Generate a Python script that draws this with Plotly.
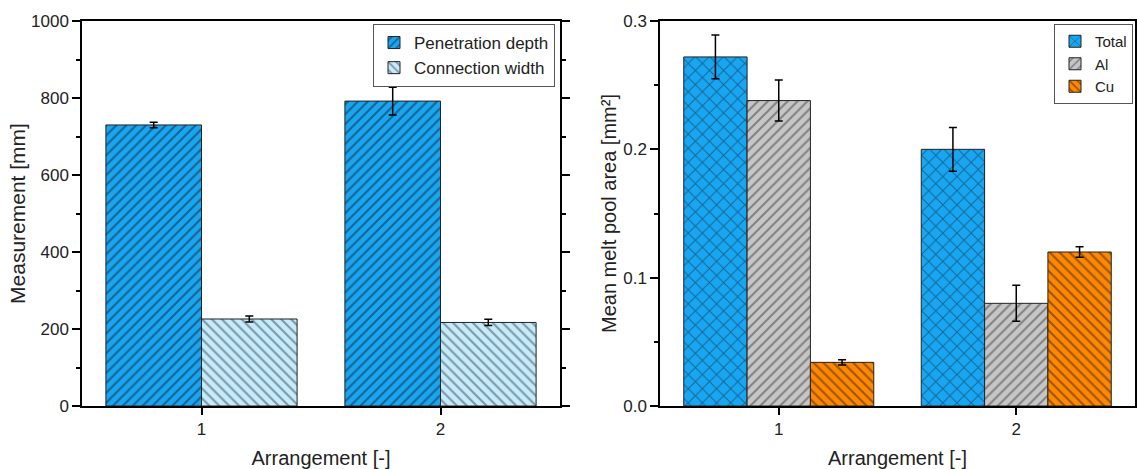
import plotly.graph_objects as go

# ---- data ----
arrangement = [1, 2]
pen_depth = [730, 792]
pen_depth_err = [7, 36]
conn_width = [226, 217]
conn_width_err = [8, 8]

area_total = [0.272, 0.200]
area_total_err = [0.017, 0.017]
area_al = [0.238, 0.080]
area_al_err = [0.016, 0.014]
area_cu = [0.034, 0.120]
area_cu_err = [0.002, 0.004]

left_ticks = [0, 200, 400, 600, 800, 1000]
right_ticks = [0.0, 0.1, 0.2, 0.3]

FONT = "Liberation Sans, Arial, sans-serif"
BLUE = "#18a6f2"
LIGHT_BLUE = "#c6ebfa"
GRAY = "#c6c6c6"
ORANGE = "#ff8800"
LINE = "#222222"

W, H = 1137, 469


def err(arr):
    return dict(type="data", array=arr, visible=True, color="black", thickness=1.5, width=4)


fig = go.Figure()

fig.add_trace(go.Bar(
    x=arrangement, y=pen_depth, name="Penetration depth", error_y=err(pen_depth_err),
    marker=dict(color=BLUE, line=dict(color=LINE, width=1),
                pattern=dict(shape="/", fgcolor="#15222e", size=7, solidity=0.3)),
    xaxis="x", yaxis="y", legend="legend"))
fig.add_trace(go.Bar(
    x=arrangement, y=conn_width, name="Connection width", error_y=err(conn_width_err),
    marker=dict(color=LIGHT_BLUE, line=dict(color=LINE, width=1),
                pattern=dict(shape="\\", fgcolor="#33444f", size=7, solidity=0.3)),
    xaxis="x", yaxis="y", legend="legend"))

fig.add_trace(go.Bar(
    x=arrangement, y=area_total, name="Total", error_y=err(area_total_err),
    marker=dict(color=BLUE, line=dict(color=LINE, width=1),
                pattern=dict(shape="x", fgcolor="#15222e", size=10, solidity=0.18)),
    xaxis="x2", yaxis="y2", legend="legend2"))
fig.add_trace(go.Bar(
    x=arrangement, y=area_al, name="Al", error_y=err(area_al_err),
    marker=dict(color=GRAY, line=dict(color=LINE, width=1),
                pattern=dict(shape="/", fgcolor="#3a3a3a", size=7, solidity=0.28)),
    xaxis="x2", yaxis="y2", legend="legend2"))
fig.add_trace(go.Bar(
    x=arrangement, y=area_cu, name="Cu", error_y=err(area_cu_err),
    marker=dict(color=ORANGE, line=dict(color=LINE, width=1),
                pattern=dict(shape="\\", fgcolor="#3a2200", size=7, solidity=0.3)),
    xaxis="x2", yaxis="y2", legend="legend2"))

ydom = [1 - 406 / H, 1 - 21 / H]

common_x = dict(
    range=[0.5, 2.5], tickvals=arrangement, ticktext=[str(v) for v in arrangement],
    showline=True, linecolor="black", linewidth=1.5, mirror=True,
    ticks="outside", ticklen=7, tickwidth=1.5, tickcolor="black",
    showgrid=False, zeroline=False, automargin=False,
    tickfont=dict(family=FONT, size=17, color="#222"),
    title=dict(text="Arrangement [-]", font=dict(family=FONT, size=20, color="#222"), standoff=13),
)
common_y = dict(
    showline=True, linecolor="black", linewidth=1.5, mirror="ticks",
    ticks="outside", ticklen=8, tickwidth=1.5, tickcolor="black",
    showgrid=False, zeroline=False, automargin=False,
    tickfont=dict(family=FONT, size=17, color="#222"),
)

fig.update_layout(
    width=W, height=H,
    margin=dict(l=0, r=0, t=0, b=0, autoexpand=False),
    paper_bgcolor="white", plot_bgcolor="white",
    barmode="group", bargap=0.2, bargroupgap=0,
    font=dict(family=FONT, color="#222"),
    xaxis=dict(domain=[82 / W, 560 / W], anchor="y", **common_x),
    yaxis=dict(domain=ydom, anchor="x", range=[0, 1000], tickvals=left_ticks,
               minor=dict(ticks="outside", ticklen=4, tickwidth=1.5, tickcolor="black", dtick=100, showgrid=False),
               title=dict(text="Measurement [mm]", font=dict(family=FONT, size=21, color="#222"), standoff=0),
               **common_y),
    xaxis2=dict(domain=[660 / W, 1135 / W], anchor="y2", **common_x),
    yaxis2=dict(domain=ydom, anchor="x2", range=[0, 0.3], tickvals=right_ticks, tickformat=".1f",
                minor=dict(ticks="outside", ticklen=4, tickwidth=1.5, tickcolor="black", dtick=0.05, showgrid=False),
                title=dict(text="Mean melt pool area [mm²]", font=dict(family=FONT, size=20, color="#222"), standoff=1),
                **common_y),
    legend=dict(x=555 / W, y=1 - 24 / H, xanchor="right", yanchor="top",
                bgcolor="white", bordercolor="#555", borderwidth=1,
                font=dict(family=FONT, size=17, color="#222"), tracegroupgap=0,
                itemwidth=30),
    legend2=dict(x=1133 / W, y=1 - 24 / H, xanchor="right", yanchor="top",
                 bgcolor="white", bordercolor="#555", borderwidth=1,
                 font=dict(family=FONT, size=15, color="#222"), tracegroupgap=0,
                 itemwidth=30),
    showlegend=True,
)

fig.write_html("out.html", config={"displayModeBar": False},
               post_script="document.body.style.margin='0';document.body.style.overflow='hidden';")
